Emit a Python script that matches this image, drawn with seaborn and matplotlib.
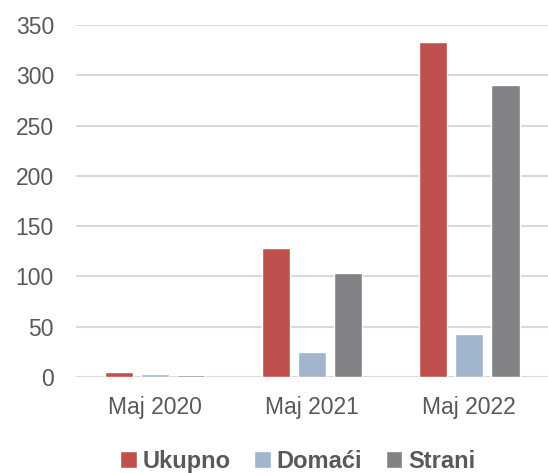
import pandas as pd
import matplotlib.pyplot as plt
import seaborn as sns

periods = ["Maj 2020", "Maj 2021", "Maj 2022"]
series = ["Ukupno", "Domaći", "Strani"]
ukupno = [5, 128, 333]
domaci = [3, 25, 43]
strani = [1.5, 103, 290]

df = pd.DataFrame({
    "period": periods * 3,
    "serija": [series[0]] * 3 + [series[1]] * 3 + [series[2]] * 3,
    "vrijednost": ukupno + domaci + strani,
})

colors = ["#C0504D", "#A1B5CC", "#808286"]
text_color = "#595959"

sns.set_theme(style="white")
plt.rcParams["font.family"] = ["Liberation Sans", "DejaVu Sans"]

fig = plt.figure(figsize=(5.48, 4.73), dpi=100)
ax = fig.add_axes([0.139, 0.203, 0.861, 0.744])

sns.barplot(data=df, x="period", y="vrijednost", hue="serija",
            hue_order=series, palette=colors, width=0.69, gap=0.22,
            saturation=1, ax=ax, legend=True)

ax.set_ylim(0, 350)
ax.set_xlim(-0.5, 2.5)
ax.set_yticks(range(0, 351, 50))
ax.yaxis.grid(True, color="#D9D9D9", linewidth=1.5)
ax.set_axisbelow(True)
for s in ax.spines.values():
    s.set_visible(False)
ax.set_xlabel("")
ax.set_ylabel("")
ax.tick_params(axis="both", length=0, labelsize=16.5, colors=text_color)
ax.tick_params(axis="x", pad=14)
ax.tick_params(axis="y", pad=16)

handles, labels = ax.get_legend_handles_labels()
ax.legend(handles, labels, loc="center", bbox_to_anchor=(0.47, -0.24),
          ncol=3, frameon=False, handlelength=0.7, handleheight=0.7,
          handletextpad=0.25, columnspacing=1.0,
          prop={"weight": "bold", "size": 17}, labelcolor=text_color)

fig.savefig("out.png", dpi=100)
